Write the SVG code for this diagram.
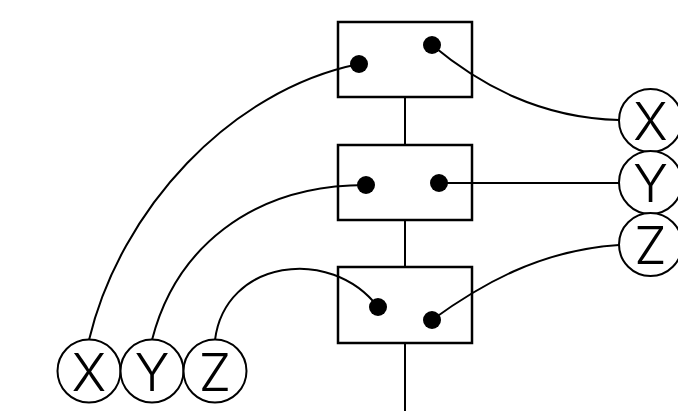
<svg xmlns="http://www.w3.org/2000/svg" width="678" height="411" viewBox="0 0 678 411">
<style>
.box{fill:none;stroke:#000;stroke-width:2.5}
.dot{fill:#000}
.wire{fill:none;stroke:#000;stroke-width:2}
.term{fill:#fff;stroke:#000;stroke-width:2}
.lbl{font-family:Inter,"DejaVu Sans",sans-serif;font-weight:300;font-size:52px;text-anchor:middle;fill:#000}
</style>
<rect width="678" height="411" fill="#fff"/>
<g id="connectors">
<path class="wire" d="M405,97 V145 M405,220 V267 M405,343 V411"/>
<path class="wire" d="M89,340 C120,210 230,90 359,64"/>
<path class="wire" d="M152,340 C175,250 250,185 366,185"/>
<path class="wire" d="M215,340 C225,260 330,245 378,307"/>
<path class="wire" d="M432,45 C480,85 540,118 619,120"/>
<path class="wire" d="M439,183 H619"/>
<path class="wire" d="M432,320 C480,285 540,250 619,245"/>
</g>
<g id="box1">
<rect class="box" x="338" y="22" width="134" height="75"/>
<circle class="dot" cx="359" cy="64" r="9"/>
<circle class="dot" cx="432" cy="45" r="9"/>
</g>
<g id="box2">
<rect class="box" x="338" y="145" width="134" height="75"/>
<circle class="dot" cx="366" cy="185" r="9"/>
<circle class="dot" cx="439" cy="183" r="9"/>
</g>
<g id="box3">
<rect class="box" x="338" y="267" width="134" height="76"/>
<circle class="dot" cx="378" cy="307" r="9"/>
<circle class="dot" cx="432" cy="320" r="9"/>
</g>
<g id="bx"><circle class="term" cx="89" cy="371" r="31.5"/><text class="lbl" x="89" y="391">X</text></g>
<g id="by"><circle class="term" cx="152" cy="371" r="31.5"/><text class="lbl" x="152" y="391">Y</text></g>
<g id="bz"><circle class="term" cx="215" cy="371" r="31.5"/><text class="lbl" x="215" y="391">Z</text></g>
<g id="rx"><circle class="term" cx="650.5" cy="120.5" r="31.5"/><text class="lbl" x="650.5" y="140">X</text></g>
<g id="ry"><circle class="term" cx="650.5" cy="182.5" r="31.5"/><text class="lbl" x="650.5" y="202">Y</text></g>
<g id="rz"><circle class="term" cx="650.5" cy="244.5" r="31.5"/><text class="lbl" x="650.5" y="264">Z</text></g>
</svg>
